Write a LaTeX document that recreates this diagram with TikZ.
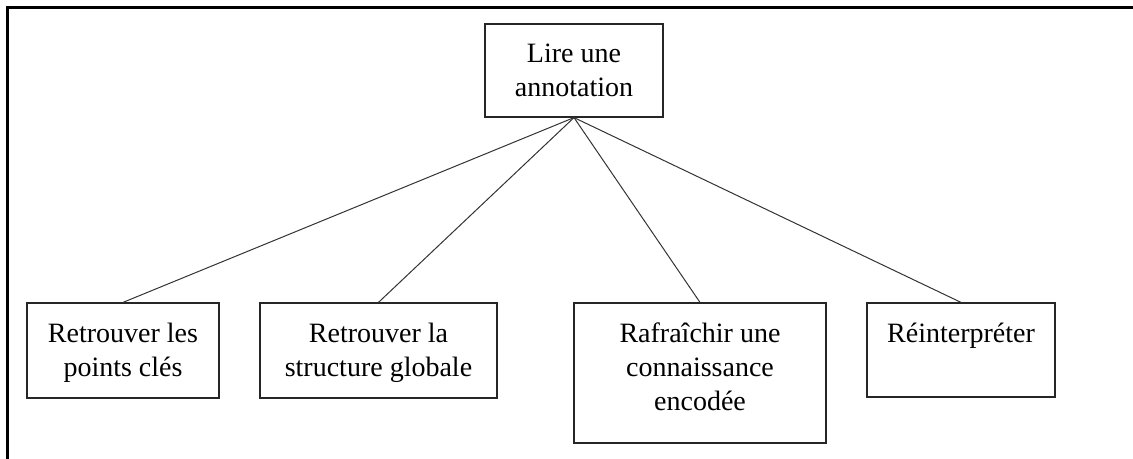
\documentclass[tikz,border=0pt]{standalone}
\usepackage{fontspec}
\setmainfont{Liberation Serif}
\usetikzlibrary{fit}
\tikzset{
  box/.style={draw=black!85, line width=0.9pt, inner sep=0pt},
  label/.style={inner sep=0pt, anchor=north, align=center, font=\fontsize{21}{25.5}\selectfont},
  link/.style={draw=black!80, line width=0.75pt}
}
\begin{document}
\begin{tikzpicture}[x=0.75pt,y=-0.75pt]
\useasboundingbox (0,0) rectangle (1133,459);
% frame
\draw[line width=2.4pt] (7.5,459) -- (7.5,7.5) -- (1133,7.5);
% boxes
\node[box, fit={(485,24) (663,117)}] (top) {};
\node[box, fit={(27,303) (219,398)}] (b1) {};
\node[box, fit={(260,303) (497,398)}] (b2) {};
\node[box, fit={(574,303) (826,443)}] (b3) {};
\node[box, fit={(867,303) (1055,397)}] (b4) {};
% texts
\node[label] (ttop) at (574,38.9) {\strut Lire une\\annotation};
\node[label] (t1) at (123,318.2) {\strut Retrouver les\\points clés};
\node[label] (t2) at (378.5,318.2) {\strut Retrouver la\\structure globale};
\node[label] (t3) at (700,318.2) {\strut Rafraîchir une\\connaissance\\encodée};
\node[label] (t4) at (961,318.2) {\strut Réinterpréter};
% connectors
\draw[link] (top.south) -- (b1.north);
\draw[link] (top.south) -- (b2.north);
\draw[link] (top.south) -- (b3.north);
\draw[link] (top.south) -- (b4.north);
\end{tikzpicture}
\end{document}
